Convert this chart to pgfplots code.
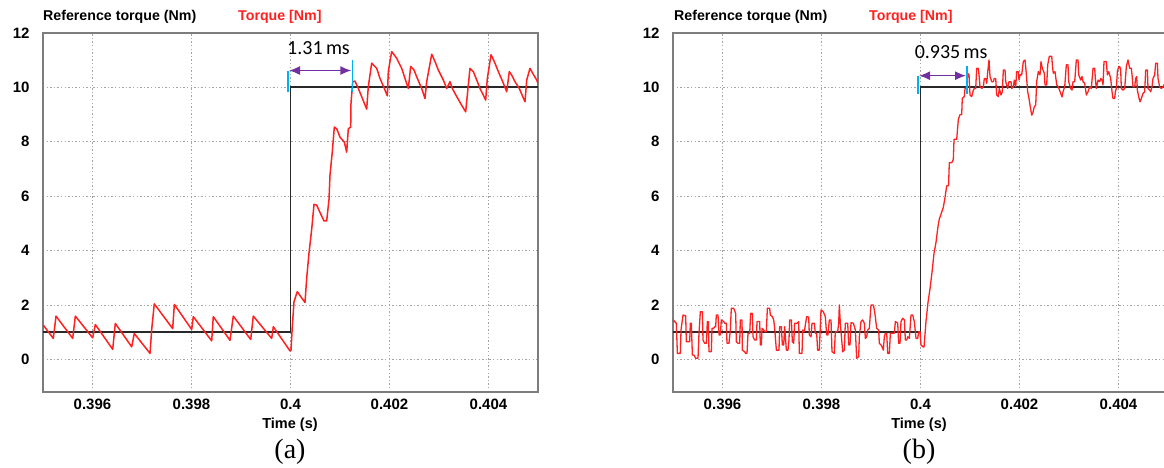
\documentclass[border=0pt]{standalone}
\usepackage{pgfplots}
\pgfplotsset{compat=1.18}
\usepackage{fontspec}
\setmainfont{Liberation Sans}
\newfontfamily\calib{Carlito}
\newfontfamily\timesf{Liberation Serif}
\usetikzlibrary{arrows.meta}
\definecolor{trq}{RGB}{255,32,32}
\definecolor{refc}{RGB}{40,40,40}
\definecolor{frame}{RGB}{125,125,125}
\definecolor{gridc}{RGB}{165,165,165}
\definecolor{purp}{RGB}{112,48,160}
\definecolor{cyanm}{RGB}{0,176,240}
\pgfplotsset{panel/.style={
  scale only axis, width=495pt, height=359pt,
  anchor=south west,
  xmin=0.395, xmax=0.405, ymin=-1.2, ymax=12,
  scaled x ticks=false,
  xtick={0.396,0.398,0.4,0.402,0.404},
  xticklabels={0.396,0.398,0.4,0.402,0.404},
  ytick={0,2,4,6,8,10,12},
  yticklabels={0,2,4,6,8,10,12},
  grid=major,
  major grid style={gridc, line width=0.8pt, dash pattern=on 1.4pt off 2.2pt},
  major tick length=0pt,
  axis line style={frame, line width=1.5pt},
  tick label style={font=\fontsize{15}{15}\selectfont\bfseries},
  xticklabel style={yshift=-3pt},
  yticklabel style={xshift=-10pt},
}}
\begin{document}
\begin{tikzpicture}
\useasboundingbox (0,0) rectangle (1164pt,468pt);
\clip (0,0) rectangle (1164pt,468pt);
% ---------- panel (a) ----------
\begin{axis}[panel, at={(43pt,76pt)}]
\addplot[refc, line width=1.8pt] coordinates {(0.395,1) (0.4,1) (0.4,10) (0.405,10)};
\addplot[trq, line width=1.5pt, line join=round] coordinates {
(0.395006,1.26) (0.395208,0.77) (0.395263,1.59) (0.395600,0.77) (0.395653,1.59)
(0.396004,0.79) (0.396057,1.28) (0.396408,0.37) (0.396461,1.32) (0.396792,0.46)
(0.396844,0.95) (0.397162,0.22) (0.397196,1.10) (0.397248,2.04) (0.397620,1.13)
(0.397653,2.02) (0.398004,1.10) (0.398036,1.57) (0.398408,0.68) (0.398440,1.57)
(0.398778,0.70) (0.398844,1.59) (0.399196,0.73) (0.399248,1.59) (0.399620,0.77)
(0.399653,1.20) (0.399990,0.31) (0.400010,0.33) (0.400036,1.20) (0.400071,2.12)
(0.400137,2.49) (0.400206,2.31) (0.400293,2.09) (0.400327,2.99) (0.400374,3.91)
(0.400428,4.78) (0.400475,5.70) (0.400529,5.67) (0.400596,5.40) (0.400677,5.09)
(0.400731,5.09) (0.400778,5.89) (0.400798,6.78) (0.400844,7.62) (0.400885,8.54)
(0.400933,8.48) (0.401000,8.17) (0.401087,7.99) (0.401135,7.62) (0.401168,8.48)
(0.401216,8.54) (0.401222,9.41) (0.401257,10.21) (0.401303,10.23) (0.401370,9.96)
(0.401438,9.66) (0.401539,9.20) (0.401572,10.03) (0.401640,10.89) (0.401741,10.70)
(0.401808,10.33) (0.401895,9.96) (0.401956,9.69) (0.401976,10.58) (0.402044,11.32)
(0.402145,11.07) (0.402246,10.70) (0.402313,10.33) (0.402380,9.96) (0.402428,10.77)
(0.402495,10.64) (0.402562,10.33) (0.402650,9.96) (0.402717,9.59) (0.402751,10.21)
(0.402853,11.22) (0.402919,10.95) (0.402986,10.64) (0.403087,10.27) (0.403156,9.96)
(0.403222,10.21) (0.403269,9.96) (0.403358,9.66) (0.403459,9.34) (0.403539,9.10)
(0.403592,10.09) (0.403626,10.70) (0.403693,10.58) (0.403762,10.27) (0.403828,9.96)
(0.403895,9.72) (0.403943,9.53) (0.403976,10.33) (0.404051,11.20) (0.404131,10.89)
(0.404198,10.58) (0.404287,10.21) (0.404368,9.84) (0.404420,10.58) (0.404469,10.45)
(0.404535,10.21) (0.404622,9.96) (0.404737,9.47) (0.404772,10.27) (0.404838,10.70)
(0.404893,10.52) (0.404974,10.27) (0.405000,10.15)
};
\draw[cyanm, line width=1.1pt] (axis cs:0.39995,9.84) -- (axis cs:0.39995,10.62);
\draw[cyanm, line width=1.1pt] (axis cs:0.40125,9.84) -- (axis cs:0.40125,11.01);
\draw[purp, line width=1.5pt, {Latex[length=11pt,width=9pt]}-{Latex[length=11pt,width=9pt]}] (axis cs:0.39997,10.62) -- (axis cs:0.40123,10.62);
\node[anchor=west, inner sep=0pt, font=\calib\fontsize{20}{20}\selectfont] at (axis cs:0.39993,11.44) {1.31\,ms};
\end{axis}
% ---------- panel (b) ----------
\begin{axis}[panel, at={(673pt,76pt)}]
\addplot[refc, line width=1.8pt] coordinates {(0.395,1) (0.4,1) (0.4,10) (0.405,10)};
\addplot[trq, line width=1.3pt, line join=round] coordinates {
(0.395000,1.45) (0.395067,1.33) (0.395088,0.22) (0.395148,0.22) (0.395162,1.08)
(0.395202,1.63) (0.395256,1.60) (0.395269,0.65) (0.395337,0.65) (0.395350,1.33)
(0.395370,1.33) (0.395391,0.16) (0.395424,0.16) (0.395458,0.04) (0.395505,0.04)
(0.395525,0.96) (0.395552,1.75) (0.395593,1.75) (0.395606,0.71) (0.395640,0.59)
(0.395673,0.59) (0.395694,1.39) (0.395714,1.39) (0.395727,0.28) (0.395774,0.28)
(0.395788,1.14) (0.395822,1.14) (0.395842,1.20) (0.395862,1.20) (0.395875,1.63)
(0.395909,1.63) (0.395929,0.90) (0.395956,0.90) (0.395976,1.45) (0.396024,1.39)
(0.396044,1.33) (0.396077,1.33) (0.396091,0.59) (0.396131,0.59) (0.396158,1.08)
(0.396178,1.88) (0.396226,1.88) (0.396266,1.69) (0.396279,0.65) (0.396313,0.59)
(0.396347,0.59) (0.396360,1.45) (0.396394,1.45) (0.396401,0.34) (0.396448,0.28)
(0.396468,0.22) (0.396495,0.22) (0.396515,0.96) (0.396549,0.96) (0.396569,1.69)
(0.396603,1.69) (0.396616,0.83) (0.396650,0.71) (0.396684,0.71) (0.396697,1.39)
(0.396751,1.39) (0.396764,0.53) (0.396785,0.53) (0.396798,1.14) (0.396832,1.08)
(0.396852,1.02) (0.396886,1.02) (0.396906,1.88) (0.396953,1.88) (0.396966,1.63)
(0.397007,1.57) (0.397034,1.45) (0.397054,1.14) (0.397088,0.34) (0.397141,0.34)
(0.397155,1.20) (0.397189,1.20) (0.397209,0.53) (0.397236,0.53) (0.397256,1.20)
(0.397290,0.34) (0.397323,0.34) (0.397343,0.71) (0.397357,1.45) (0.397391,1.45)
(0.397411,0.65) (0.397438,0.59) (0.397458,1.33) (0.397505,1.33) (0.397539,1.39)
(0.397552,0.22) (0.397606,0.22) (0.397620,1.08) (0.397653,1.02) (0.397673,1.26)
(0.397700,1.57) (0.397741,1.55) (0.397754,0.90) (0.397788,0.83) (0.397808,1.33)
(0.397855,1.33) (0.397875,0.96) (0.397902,0.96) (0.397922,0.34) (0.397956,0.34)
(0.397990,1.82) (0.398037,1.75) (0.398077,1.57) (0.398104,0.90) (0.398131,0.90)
(0.398158,1.45) (0.398192,1.45) (0.398212,0.28) (0.398259,0.22) (0.398279,1.02)
(0.398327,1.02) (0.398347,1.33) (0.398360,2.00) (0.398380,1.33) (0.398394,1.02)
(0.398428,0.28) (0.398461,0.34) (0.398481,1.33) (0.398529,1.33) (0.398549,0.53)
(0.398576,0.53) (0.398596,1.35) (0.398643,1.33) (0.398684,1.08) (0.398710,0.04)
(0.398751,0.10) (0.398764,0.83) (0.398798,1.39) (0.398832,1.45) (0.398865,1.33)
(0.398886,0.77) (0.398913,0.83) (0.398933,1.08) (0.398966,1.14) (0.399000,2.00)
(0.399047,2.00) (0.399067,1.82) (0.399087,1.57) (0.399114,1.14) (0.399155,1.08)
(0.399168,0.59) (0.399202,0.53) (0.399222,0.47) (0.399249,0.34) (0.399269,0.83)
(0.399290,0.96) (0.399317,0.96) (0.399337,0.22) (0.399370,0.22) (0.399391,0.96)
(0.399438,0.96) (0.399471,0.96) (0.399492,1.39) (0.399539,1.33) (0.399559,0.59)
(0.399586,0.59) (0.399606,1.39) (0.399640,1.51) (0.399674,1.45) (0.399694,0.71)
(0.399721,0.71) (0.399741,0.83) (0.399775,0.77) (0.399808,1.63) (0.399842,1.63)
(0.399875,1.39) (0.399909,0.77) (0.399943,0.77) (0.399963,1.02) (0.399990,1.02)
(0.400010,0.53) (0.400044,0.47) (0.400071,0.45) (0.400111,1.40) (0.400152,2.10)
(0.400192,2.60) (0.400232,3.20) (0.400273,3.90) (0.400313,4.30) (0.400354,4.90)
(0.400380,5.16) (0.400461,5.59) (0.400495,5.95) (0.400529,6.38) (0.400566,6.38)
(0.400582,7.23) (0.400630,7.23) (0.400663,7.35) (0.400677,8.09) (0.400731,8.09)
(0.400764,8.82) (0.400798,9.00) (0.400832,9.00) (0.400844,9.60) (0.400885,9.66)
(0.400899,9.96) (0.400933,10.00) (0.400953,10.52) (0.400980,10.46) (0.401000,9.72)
(0.401034,9.66) (0.401067,9.90) (0.401087,9.96) (0.401115,9.96) (0.401135,10.70)
(0.401168,10.70) (0.401182,10.46) (0.401202,10.02) (0.401236,9.96) (0.401269,10.02)
(0.401289,10.33) (0.401317,10.33) (0.401337,10.15) (0.401358,10.58) (0.401384,11.01)
(0.401404,10.40) (0.401438,10.21) (0.401471,10.21) (0.401491,10.33) (0.401519,10.33)
(0.401539,9.72) (0.401572,9.66) (0.401592,9.96) (0.401626,9.72) (0.401653,9.84)
(0.401673,10.64) (0.401707,10.64) (0.401721,10.21) (0.401761,9.96) (0.401788,10.21)
(0.401828,10.21) (0.401842,9.96) (0.401875,10.02) (0.401895,10.27) (0.401923,10.02)
(0.401943,10.58) (0.401976,10.58) (0.401990,10.27) (0.402010,10.46) (0.402044,10.46)
(0.402077,10.95) (0.402111,11.01) (0.402131,10.64) (0.402165,9.84) (0.402192,9.59)
(0.402212,9.35) (0.402246,8.98) (0.402266,9.04) (0.402299,9.29) (0.402327,9.35)
(0.402347,10.21) (0.402380,10.58) (0.402414,10.46) (0.402434,10.95) (0.402461,10.70)
(0.402501,10.52) (0.402515,10.09) (0.402549,10.09) (0.402570,10.83) (0.402602,11.14)
(0.402651,11.14) (0.402663,10.83) (0.402683,10.52) (0.402717,10.58) (0.402752,10.09)
(0.402784,10.02) (0.402859,9.65) (0.402879,9.84) (0.402913,10.02) (0.402946,10.83)
(0.402980,10.83) (0.402993,10.21) (0.403034,9.96) (0.403061,9.90) (0.403081,10.21)
(0.403115,10.21) (0.403148,11.01) (0.403182,11.01) (0.403196,10.46) (0.403236,10.27)
(0.403263,10.40) (0.403283,10.21) (0.403317,10.15) (0.403350,9.72) (0.403384,9.84)
(0.403418,10.02) (0.403451,9.96) (0.403485,10.70) (0.403519,10.70) (0.403532,10.33)
(0.403552,9.96) (0.403586,10.27) (0.403620,10.21) (0.403640,10.33) (0.403667,10.27)
(0.403687,10.09) (0.403707,10.95) (0.403754,10.95) (0.403775,10.46) (0.403802,10.58)
(0.403822,10.46) (0.403842,10.33) (0.403869,9.84) (0.403889,9.59) (0.403923,9.59)
(0.403936,9.84) (0.403956,9.96) (0.403977,10.58) (0.404004,10.77) (0.404024,10.77)
(0.404044,10.64) (0.404057,9.96) (0.404091,9.90) (0.404125,9.96) (0.404158,10.77)
(0.404192,11.01) (0.404226,10.70) (0.404259,10.70) (0.404273,10.46) (0.404293,10.02)
(0.404327,10.02) (0.404347,10.33) (0.404367,10.40) (0.404381,9.90) (0.404408,9.65)
(0.404435,9.47) (0.404461,9.59) (0.404495,9.78) (0.404529,9.84) (0.404549,10.64)
(0.404583,10.64) (0.404596,9.96) (0.404630,9.90) (0.404650,9.84) (0.404677,10.02)
(0.404697,10.33) (0.404731,10.46) (0.404751,10.89) (0.404785,10.89) (0.404798,10.33)
(0.404832,10.02) (0.404865,9.96) (0.404899,10.02) (0.404920,10.10) (0.405000,10.20)
};
\draw[cyanm, line width=1.1pt] (axis cs:0.39995,9.76) -- (axis cs:0.39995,10.43);
\draw[cyanm, line width=1.1pt] (axis cs:0.40094,9.76) -- (axis cs:0.40094,10.80);
\draw[purp, line width=1.5pt, {Latex[length=11pt,width=9pt]}-{Latex[length=11pt,width=9pt]}] (axis cs:0.39997,10.43) -- (axis cs:0.40092,10.43);
\node[anchor=west, inner sep=0pt, font=\calib\fontsize{20}{20}\selectfont] at (axis cs:0.39988,11.30) {0.935\,ms};
\end{axis}
% ---------- texts outside the axes ----------
\begin{scope}[every node/.style={inner sep=0pt}]
\node[anchor=west, font=\fontsize{14.2}{14}\selectfont\bfseries] at (43pt,451pt) {Reference torque (Nm)};
\node[anchor=west, font=\fontsize{14.2}{14}\selectfont\bfseries, text=trq] at (238pt,451pt) {Torque [Nm]};
\node[anchor=west, font=\fontsize{14.2}{14}\selectfont\bfseries] at (674pt,451pt) {Reference torque (Nm)};
\node[anchor=west, font=\fontsize{14.2}{14}\selectfont\bfseries, text=trq] at (869pt,451pt) {Torque [Nm]};
\node[font=\fontsize{14.5}{14}\selectfont\bfseries] at (290pt,43pt) {Time (s)};
\node[font=\fontsize{14.5}{14}\selectfont\bfseries] at (919pt,43pt) {Time (s)};
\node[font=\timesf\fontsize{28}{28}\selectfont] at (290pt,16pt) {(a)};
\node[font=\timesf\fontsize{28}{28}\selectfont] at (919pt,16pt) {(b)};
\end{scope}
\end{tikzpicture}
\end{document}
